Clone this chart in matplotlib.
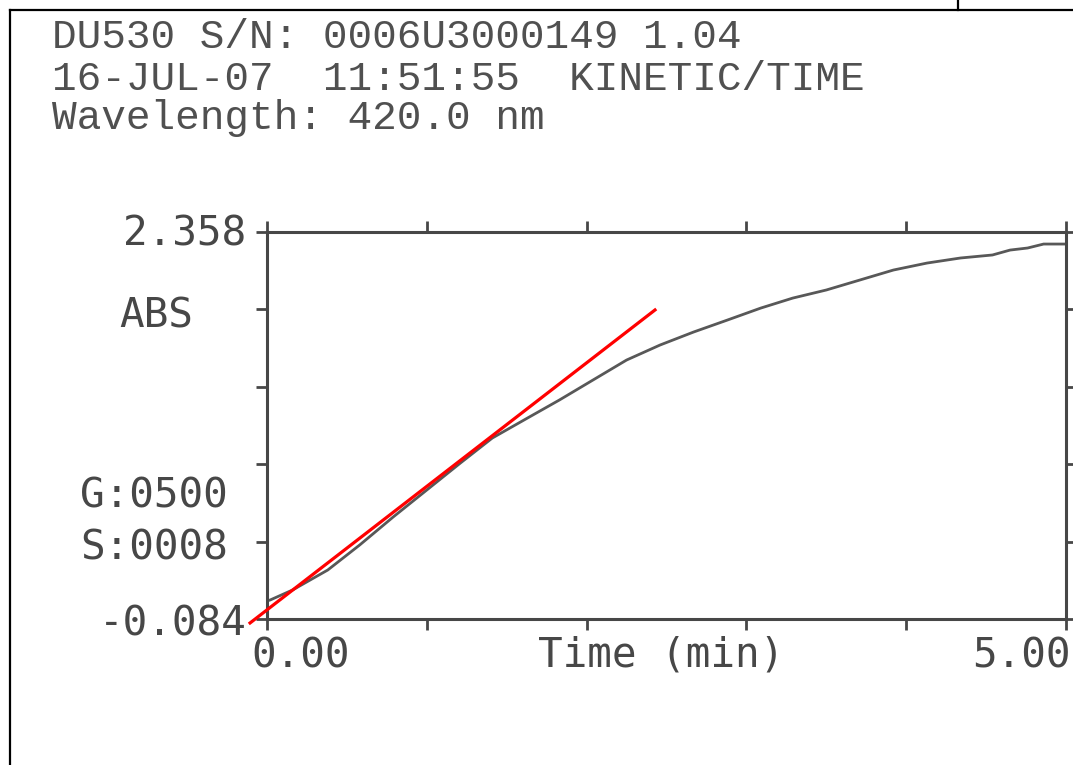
import numpy as np
import matplotlib
matplotlib.use("Agg")
import matplotlib.pyplot as plt
from matplotlib.lines import Line2D

# ---- data ----
time_min = [0.00, 0.02, 0.16, 0.38, 0.58, 0.79, 1.00, 1.21, 1.41, 1.63, 1.83,
            2.04, 2.25, 2.46, 2.67, 2.88, 3.09, 3.29, 3.50, 3.71, 3.92, 4.13,
            4.34, 4.54, 4.65, 4.76, 4.86, 4.96, 5.00]
absorbance = [0.030, 0.036, 0.099, 0.225, 0.383, 0.560, 0.730, 0.900, 1.058,
              1.184, 1.298, 1.424, 1.550, 1.645, 1.727, 1.802, 1.878, 1.941,
              1.992, 2.055, 2.118, 2.162, 2.194, 2.213, 2.244, 2.257, 2.282,
              2.282, 2.282]
tangent_t = [-0.106, 2.428]
tangent_abs = [-0.109, 1.866]

y_min, y_max = -0.084, 2.358
x_min, x_max = 0.0, 5.0
header_lines = ["DU530 S/N: 0006U3000149 1.04",
                "16-JUL-07  11:51:55  KINETIC/TIME",
                "Wavelength: 420.0 nm"]
y_top_label, y_bot_label = "2.358", "-0.084"
x_left_label, x_right_label = "0.00", "5.00"
x_title = "Time (min)"
y_title = "ABS"
gain_label, step_label = "G:0500", "S:0008"

W, H = 1073, 765
fig = plt.figure(figsize=(W / 100, H / 100), dpi=100)
fig.patch.set_facecolor("white")

ink = "#474747"
ax = fig.add_axes([267 / W, 1 - 619 / H, 799 / W, 387 / H])
ax.set_xlim(x_min, x_max)
ax.set_ylim(y_min, y_max)
ax.set_xticks(np.arange(0, 5.01, 1.0))
ax.set_yticks(np.linspace(y_min, y_max, 6))
ax.tick_params(which="both", direction="out", length=8, width=2.0, color=ink,
               top=True, right=True, labelbottom=False, labelleft=False)
for sp in ax.spines.values():
    sp.set_color(ink)
    sp.set_linewidth(2.2)

ax.plot(time_min, absorbance, color="#585858", lw=2.0, solid_joinstyle="miter")
ax.plot(tangent_t, tangent_abs, color="#ff0000", lw=2.3, clip_on=False, zorder=5)

mono_axis = dict(family="DejaVu Sans Mono", fontsize=29.5, color=ink)
mono_head = dict(family="Liberation Mono", fontsize=29.6, color="#505050")


def T(px, py, s, **kw):
    fig.text(px / W, 1 - py / H, s, **kw)


# header
for line, base in zip(header_lines, [48, 90, 129]):
    T(52, base, line, ha="left", va="baseline", **mono_head)

# axis annotations
T(246, 246, y_top_label, ha="right", va="baseline", **mono_axis)
T(247, 635, y_bot_label, ha="right", va="baseline", **mono_axis)
T(119, 327, y_title, ha="left", va="baseline", **mono_axis)
T(80, 507, gain_label, ha="left", va="baseline", **mono_axis)
T(80, 560, step_label, ha="left", va="baseline", **mono_axis)
T(251, 667, x_left_label, ha="left", va="baseline", **mono_axis)
T(538, 667, x_title, ha="left", va="baseline", **mono_axis)
T(1071, 667, x_right_label, ha="right", va="baseline", **mono_axis)

# page border from the scan
def L(x0, y0, x1, y1, lw=1.6):
    fig.add_artist(Line2D([x0 / W, x1 / W], [1 - y0 / H, 1 - y1 / H],
                          transform=fig.transFigure, color="black", lw=lw))

L(10, 10, W, 10)
L(10, 10, 10, H)
L(958, 0, 958, 10)

fig.savefig("out.png", dpi=100, facecolor="white")
